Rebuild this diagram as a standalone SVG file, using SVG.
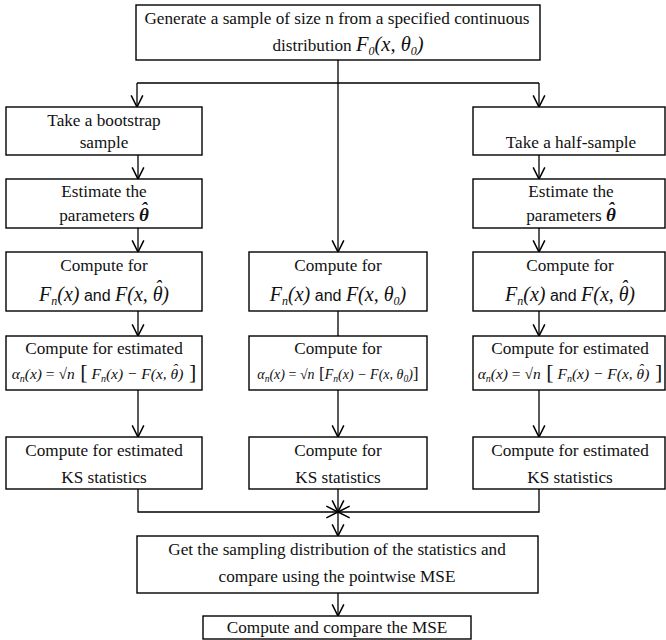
<svg xmlns="http://www.w3.org/2000/svg" width="666" height="640" viewBox="0 0 666 640">
<style>
.box{fill:#fff;stroke:#000;stroke-width:1.4}
.t{font-family:"Liberation Serif","Times New Roman",serif;font-size:17.2px;fill:#111;text-anchor:middle}
.m{font-family:"Liberation Serif","Times New Roman",serif;font-style:italic;fill:#111}
.s{font-family:"Liberation Sans",Arial,sans-serif;fill:#111}
.c{fill:none;stroke:#000;stroke-width:1.3}
</style>
<defs>
<marker id="a" markerUnits="userSpaceOnUse" markerWidth="14" markerHeight="14" refX="10" refY="6" orient="auto" viewBox="0 0 12 12">
<path d="M0,1 L10,6 L0,11" fill="none" stroke="#000" stroke-width="1.3"/>
</marker>
</defs>
<rect x="0" y="0" width="666" height="640" fill="#fff"/>
<g id="connectors">
<path class="c" d="M338,60 V83 M137,83 H539"/>
<path class="c" d="M137,83 V107" marker-end="url(#a)"/>
<path class="c" d="M539,83 V107" marker-end="url(#a)"/>
<path class="c" d="M338,83 V252" marker-end="url(#a)"/>
<path class="c" d="M138,155 V179" marker-end="url(#a)"/>
<path class="c" d="M138,228 V252" marker-end="url(#a)"/>
<path class="c" d="M138,311 V336" marker-end="url(#a)"/>
<path class="c" d="M138,390 V437" marker-end="url(#a)"/>
<path class="c" d="M138,489 V512 H338" marker-end="url(#a)"/>
<path class="c" d="M338,311 V336"/>
<path class="c" d="M338,390 V437" marker-end="url(#a)"/>
<path class="c" d="M338,489 V512" marker-end="url(#a)"/>
<path class="c" d="M338,512 V536" marker-end="url(#a)"/>
<path class="c" d="M539,155 V179" marker-end="url(#a)"/>
<path class="c" d="M539,228 V252" marker-end="url(#a)"/>
<path class="c" d="M539,311 V336" marker-end="url(#a)"/>
<path class="c" d="M539,390 V437" marker-end="url(#a)"/>
<path class="c" d="M539,489 V512 H338" marker-end="url(#a)"/>
<path class="c" d="M338,593 V616" marker-end="url(#a)"/>
</g>
<g id="generate">
<rect class="box" x="136" y="5" width="404" height="55"/>
<text class="t" x="337" y="24">Generate a sample of size n from a specified continuous</text>
<text class="t" x="348" y="51">distribution <tspan class="m" font-size="20.5">F<tspan font-size="12" dy="4">0</tspan><tspan dy="-4">(x, θ</tspan><tspan font-size="12" dy="4">0</tspan><tspan dy="-4">)</tspan></tspan></text>
</g>
<g id="bootstrap">
<rect class="box" x="6" y="107" width="196" height="48"/>
<text class="t" x="104" y="126">Take a bootstrap</text>
<text class="t" x="104" y="148">sample</text>
</g>
<g id="estimate-left">
<rect class="box" x="6" y="179" width="196" height="49"/>
<text class="t" x="104" y="197">Estimate the</text>
<text class="t" x="104" y="221">parameters   <tspan class="m" font-size="19" font-weight="bold">θ<tspan dx="-8" dy="-6">ˆ</tspan><tspan dy="6" dx="1"> </tspan></tspan></text>
</g>
<g id="compute-left">
<rect class="box" x="6" y="252" width="196" height="59"/>
<text class="t" x="104" y="271">Compute for</text>
<text class="t" x="104" y="301"><tspan class="m" font-size="20">F<tspan font-size="12" dy="4">n</tspan><tspan dy="-4">(x)</tspan></tspan><tspan class="s" font-size="16"> and </tspan><tspan class="m" font-size="20">F(x, θ<tspan dx="-8" dy="-6">ˆ</tspan><tspan dy="6" dx="1">)</tspan></tspan></text>
</g>
<g id="alpha-left">
<rect class="box" x="6" y="336" width="196" height="54"/>
<text class="t" x="104" y="354">Compute for estimated</text>
<text class="t" x="104" y="379"><tspan class="m" font-size="15.5">α<tspan font-size="10" dy="3">n</tspan><tspan dy="-3">(x)</tspan></tspan><tspan font-size="15.5"> = √</tspan><tspan class="m" font-size="15.5">n</tspan><tspan font-size="22"> [</tspan><tspan class="m" font-size="15.5"> F<tspan font-size="10" dy="3">n</tspan><tspan dy="-3">(x) − F(x, θ</tspan><tspan dx="-6" dy="-5">ˆ</tspan><tspan dy="5" dx="1">)</tspan></tspan><tspan font-size="22"> ]</tspan></text>
</g>
<g id="ks-left">
<rect class="box" x="6" y="437" width="196" height="52"/>
<text class="t" x="104" y="456">Compute for estimated</text>
<text class="t" x="104" y="483">KS statistics</text>
</g>
<g id="compute-mid">
<rect class="box" x="249" y="252" width="178" height="59"/>
<text class="t" x="338" y="271">Compute for</text>
<text class="t" x="338" y="301"><tspan class="m" font-size="20">F<tspan font-size="12" dy="4">n</tspan><tspan dy="-4">(x)</tspan></tspan><tspan class="s" font-size="16"> and </tspan><tspan class="m" font-size="20">F(x, θ<tspan font-size="12" dy="4">0</tspan><tspan dy="-4">)</tspan></tspan></text>
</g>
<g id="alpha-mid">
<rect class="box" x="249" y="336" width="178" height="54"/>
<text class="t" x="338" y="354">Compute for</text>
<text class="t" x="338" y="379"><tspan class="m" font-size="14">α<tspan font-size="9.5" dy="3">n</tspan><tspan dy="-3">(x)</tspan></tspan><tspan font-size="14"> = √</tspan><tspan class="m" font-size="14">n</tspan><tspan font-size="17.5"> [</tspan><tspan class="m" font-size="14">F<tspan font-size="9.5" dy="3">n</tspan><tspan dy="-3">(x) − F(x, θ</tspan><tspan font-size="9.5" dy="3">0</tspan><tspan dy="-3">)</tspan></tspan><tspan font-size="17.5">]</tspan></text>
</g>
<g id="ks-mid">
<rect class="box" x="249" y="437" width="178" height="52"/>
<text class="t" x="338" y="456">Compute for</text>
<text class="t" x="338" y="483">KS statistics</text>
</g>
<g id="half-sample">
<rect class="box" x="473" y="107" width="192" height="48"/>
<text class="t" x="571" y="148">Take a half-sample</text>
</g>
<g id="estimate-right">
<rect class="box" x="473" y="179" width="192" height="49"/>
<text class="t" x="571" y="197">Estimate the</text>
<text class="t" x="571" y="221">parameters   <tspan class="m" font-size="19" font-weight="bold">θ<tspan dx="-8" dy="-6">ˆ</tspan><tspan dy="6" dx="1"> </tspan></tspan></text>
</g>
<g id="compute-right">
<rect class="box" x="473" y="252" width="192" height="59"/>
<text class="t" x="570" y="271">Compute for</text>
<text class="t" x="570" y="301"><tspan class="m" font-size="20">F<tspan font-size="12" dy="4">n</tspan><tspan dy="-4">(x)</tspan></tspan><tspan class="s" font-size="16"> and </tspan><tspan class="m" font-size="20">F(x, θ<tspan dx="-8" dy="-6">ˆ</tspan><tspan dy="6" dx="1">)</tspan></tspan></text>
</g>
<g id="alpha-right">
<rect class="box" x="473" y="336" width="192" height="54"/>
<text class="t" x="570" y="354">Compute for estimated</text>
<text class="t" x="570" y="379"><tspan class="m" font-size="15.5">α<tspan font-size="10" dy="3">n</tspan><tspan dy="-3">(x)</tspan></tspan><tspan font-size="15.5"> = √</tspan><tspan class="m" font-size="15.5">n</tspan><tspan font-size="22"> [</tspan><tspan class="m" font-size="15.5"> F<tspan font-size="10" dy="3">n</tspan><tspan dy="-3">(x) − F(x, θ</tspan><tspan dx="-6" dy="-5">ˆ</tspan><tspan dy="5" dx="1">)</tspan></tspan><tspan font-size="22"> ]</tspan></text>
</g>
<g id="ks-right">
<rect class="box" x="473" y="437" width="192" height="52"/>
<text class="t" x="570" y="456">Compute for estimated</text>
<text class="t" x="570" y="483">KS statistics</text>
</g>
<g id="sampling-dist">
<rect class="box" x="137" y="536" width="401" height="57"/>
<text class="t" x="337" y="555">Get the sampling distribution of the statistics and</text>
<text class="t" x="337" y="582">compare using the pointwise MSE</text>
</g>
<g id="compare-mse">
<rect class="box" x="203" y="616" width="268" height="23"/>
<text class="t" x="337" y="633">Compute and compare the MSE</text>
</g>
</svg>
